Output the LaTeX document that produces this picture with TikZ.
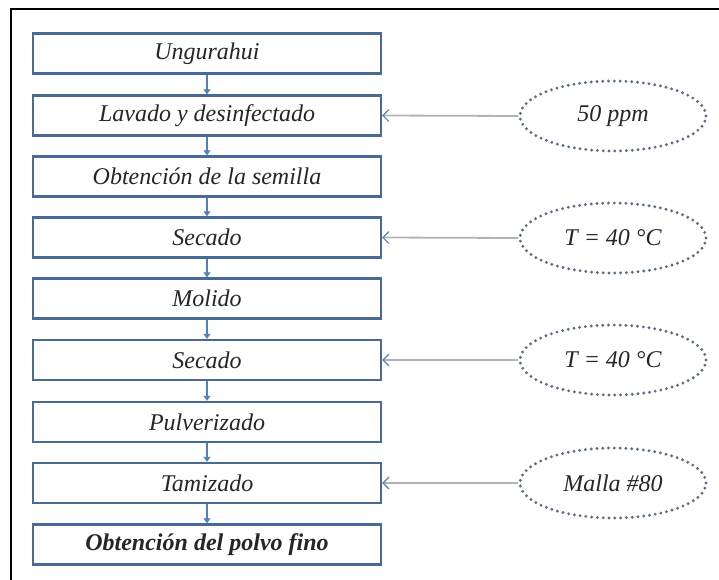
\documentclass[tikz,border=0pt]{standalone}
\usepackage{fontspec}
\setmainfont{Liberation Serif}
\usetikzlibrary{arrows.meta,shapes.geometric}
\definecolor{boxblue}{HTML}{4A6A96}
\definecolor{arrblue}{HTML}{4F81BD}
\definecolor{dotgray}{HTML}{5E6E82}
\definecolor{linegray}{HTML}{B0B4B8}
\definecolor{txt}{HTML}{262626}
\begin{document}
\begin{tikzpicture}[x=1pt,y=-1pt,
  txtfont/.style={font=\fontsize{24}{26}\selectfont\itshape},
  stepbox/.style={draw=boxblue,line width=2.4pt,minimum width=348pt,minimum height=40pt,inner sep=0pt,
     txtfont,text=txt},
  param/.style={ellipse,draw=dotgray,line width=3.2pt,line cap=round,dash pattern=on 0pt off 5.8pt,
     minimum width=186pt,minimum height=70pt,inner sep=0pt,txtfont,text=txt},
  flow/.style={draw=arrblue,line width=2.2pt,-{Triangle[length=5pt,width=7pt]}},
  feed/.style={draw=linegray,line width=1.8pt,-{Straight Barb[length=6pt,width=12pt,color=arrblue!70!gray,line width=1.1pt]}}
]
\useasboundingbox (0,0) rectangle (719,580);
\fill[white] (0,0) rectangle (719,580);
\draw[black,line width=1.5pt] (11,580) -- (11,9) -- (719,9);
\node[stepbox] (s1) at (207,53.5) {Ungurahui};
\node[stepbox] (s2) at (207,115.5) {Lavado y desinfectado};
\node[stepbox] (s3) at (207,176.5) {Obtención de la semilla};
\node[stepbox] (s4) at (207,237.5) {Secado};
\node[stepbox] (s5) at (207,298.5) {Molido};
\node[stepbox] (s6) at (207,360) {Secado};
\node[stepbox] (s7) at (207,422) {Pulverizado};
\node[stepbox] (s8) at (207,483) {Tamizado};
\node[stepbox,font=\fontsize{24}{26}\selectfont\bfseries\itshape] (s9) at (207,544.5) {Obtención del polvo fino};
\foreach \a/\b in {s1/s2,s2/s3,s3/s4,s4/s5,s5/s6,s6/s7,s7/s8,s8/s9}
  \draw[flow] (\a.south) -- (\b.north);
\node[param] (p1) at (613,116) {50 ppm};
\node[param] (p2) at (613,238) {T = 40 °C};
\node[param] (p3) at (613,360) {T = 40 °C};
\node[param] (p4) at (613,483) {Malla \#80};
\draw[feed] (p1.west) -- (s2.east);
\draw[feed] (p2.west) -- (s4.east);
\draw[feed] (p3.west) -- (s6.east);
\draw[feed] (p4.west) -- (s8.east);
\end{tikzpicture}
\end{document}
